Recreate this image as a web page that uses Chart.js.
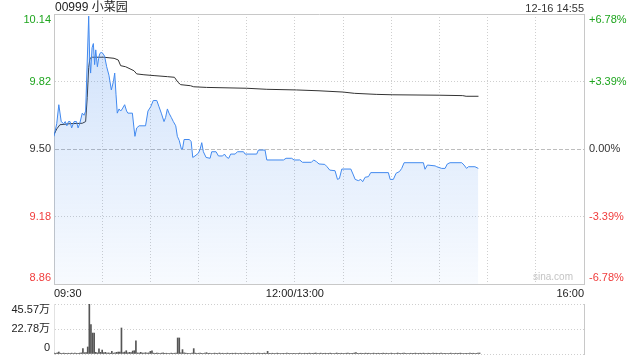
<!DOCTYPE html>
<html>
<head>
<meta charset="utf-8">
<script src="https://cdn.jsdelivr.net/npm/chart.js@4.4.1/dist/chart.umd.min.js"></script>
<style>
  body { margin: 0; background: #fff; }
  #wrap { position: relative; width: 640px; height: 360px; font-family: "Liberation Sans", Arial, "Noto Sans CJK SC", sans-serif; }
  #title { position: absolute; left: 55px; top: 0; font-size: 12px; line-height: 15px; color: #222; }
  #stamp { position: absolute; right: 56px; top: 1px; font-size: 11px; line-height: 14px; color: #333; }
  #priceChart { position: absolute; left: 0; top: 0; }
  #volChart { position: absolute; left: 0; top: 300px; }
</style>
</head>
<body>
<div id="wrap">
  <canvas id="priceChart" width="640" height="300"></canvas>
  <canvas id="volChart" width="640" height="60"></canvas>
  <div id="title">00999 小菜园</div>
  <div id="stamp">12-16 14:55</div>
</div>
<script>
// minutes since 09:30 (lunch break removed, 12:00/13:00 = 150, 16:00 = 330)
const priceMin = [0, 1.7, 3, 4.5, 6, 7, 8, 9, 10, 11, 12.5, 14, 15, 16, 17.6, 18.7, 19.7, 21.6, 22.2, 22.8,
  23.7, 24.5, 25.3, 26, 27, 27.8, 28.4, 29.5, 30.7, 31.5, 32.8, 34.2, 35.7, 37, 37.8, 38.6, 39.4, 40.5, 41.5, 42.5,
  44, 45.2, 46, 47.3, 48.8, 49.8, 50.4, 51.5, 53, 57, 58.5, 60.2, 61.8, 64, 65.4, 66.8, 68.5, 69.5, 70.6, 71.6,
  73, 74.3, 75.8, 76.8, 78, 79.3, 80, 81, 84.3, 85.4, 86.4, 87.8, 89.9, 91, 92, 93, 94.7, 97.2, 98.2, 100.9,
  102.4, 105, 106.1, 107.6, 108.8, 110, 112.8, 114.2, 118, 119, 126.2, 127.3, 131.4, 132.5, 142.9, 144.5, 148, 149.5, 153, 154.7,
  160.3, 161.7, 163.4, 165, 168.6, 170, 171.7, 175, 176.5, 177.7, 179.2, 184.8, 186.4, 187.5, 189.5, 191, 192.2, 193.7, 195.8, 197.2,
  208.2, 209.3, 211.3, 213, 215.1, 216.5, 218, 230, 231, 232.5, 237.3, 238.3, 241.4, 243.5, 244.9, 246.6, 253.9, 255.3, 256.9, 258,
  262.1, 264.2];
const priceVal = [9.56, 9.62, 9.71, 9.63, 9.62, 9.63, 9.61, 9.63, 9.63, 9.60, 9.63, 9.63, 9.60, 9.62, 9.67, 9.66, 9.68, 10.13, 9.93, 9.86,
  9.98, 10.00, 9.90, 9.97, 9.89, 9.93, 9.95, 9.96, 9.95, 9.94, 9.89, 9.85, 9.78, 9.82, 9.86, 9.76, 9.67, 9.69, 9.68, 9.69,
  9.71, 9.68, 9.67, 9.67, 9.67, 9.60, 9.56, 9.60, 9.61, 9.61, 9.68, 9.70, 9.73, 9.73, 9.70, 9.67, 9.63, 9.65, 9.69, 9.67,
  9.65, 9.63, 9.61, 9.56, 9.54, 9.50, 9.50, 9.545, 9.545, 9.535, 9.46, 9.467, 9.48, 9.50, 9.53, 9.487, 9.46, 9.456, 9.487, 9.487,
  9.467, 9.467, 9.476, 9.46, 9.456, 9.476, 9.476, 9.487, 9.487, 9.476, 9.476, 9.495, 9.495, 9.448, 9.448, 9.456, 9.456, 9.448, 9.448, 9.437,
  9.437, 9.448, 9.44, 9.429, 9.427, 9.416, 9.40, 9.397, 9.356, 9.36, 9.405, 9.405, 9.377, 9.356, 9.35, 9.356, 9.345, 9.366, 9.369, 9.388,
  9.388, 9.356, 9.356, 9.385, 9.393, 9.408, 9.435, 9.435, 9.404, 9.424, 9.42, 9.416, 9.408, 9.408, 9.429, 9.435, 9.435, 9.424, 9.408, 9.416,
  9.416, 9.408];

const avgMin = [0, 1.7, 3.7, 10, 17.6, 19.7, 20.7, 21.6, 22.4, 23.9, 31, 37.4, 40, 41.5, 44.6, 49.8, 51.5, 56, 62.3, 70.6,
  75, 77.2, 78.9, 85, 87, 95, 120, 132.5, 151, 165, 180, 187, 200.6, 211, 240, 254.5, 256.6, 264.3];
const avgVal = [9.568, 9.595, 9.615, 9.62, 9.622, 9.63, 9.745, 9.887, 9.93, 9.935, 9.935, 9.93, 9.922, 9.895, 9.89, 9.871, 9.856, 9.852, 9.848, 9.843,
  9.84, 9.816, 9.805, 9.80, 9.795, 9.792, 9.788, 9.783, 9.78, 9.776, 9.77, 9.764, 9.759, 9.757, 9.755, 9.753, 9.75, 9.75];

// volume per minute, in 万 shares
const volume = [
  0.9, 0.6, 1.0, 1.8, 0.7, 0.5, 0.8, 0.6, 0.5, 0.7,
  0.6, 0.8, 0.5, 0.9, 0.6, 0.7, 0.8, 1.0, 4.9, 1.2,
  1.4, 6.4, 45.57, 26.7, 19.1, 19.1, 1.5, 1.0, 4.6, 1.5,
  3.6, 1.2, 1.5, 0.8, 1.0, 0.7, 2.4, 0.8, 1.0, 1.5,
  1.8, 1.8, 23.7, 1.2, 1.8, 3.0, 1.0, 1.5, 1.4, 2.7,
  3.0, 12.1, 1.0, 0.8, 1.5, 0.9, 0.8, 1.2, 0.8, 1.0,
  2.4, 3.0, 0.8, 0.6, 0.9, 0.7, 0.6, 0.8, 1.0, 0.6,
  0.7, 0.6, 0.5, 0.8, 0.6, 0.7, 0.9, 14.6, 14.6, 1.0,
  4.0, 1.0, 0.8, 0.6, 0.7, 0.5, 0.9, 4.9, 0.8, 0.6,
  0.7, 0.9, 0.6, 0.5, 0.8, 1.2, 0.6, 0.7, 0.5, 0.6,
  0.8, 0.6, 0.5, 0.9, 0.6, 0.7, 0.5, 0.6, 0.8, 0.5,
  0.6, 0.7, 0.5, 0.8, 0.6, 0.5, 0.7, 0.6, 0.5, 0.8,
  0.6, 0.7, 0.5, 0.6, 0.8, 0.5, 0.6, 0.9, 0.7, 0.5,
  0.6, 0.8, 0.7, 2.4, 0.6, 0.5, 0.7, 0.6, 0.5, 0.8,
  0.6, 0.5, 0.7, 0.6, 0.5, 0.8, 0.6, 0.7, 0.5, 0.6,
  0.7, 0.5, 0.6, 0.8, 0.5, 0.6, 0.7, 0.5, 0.6, 0.8,
  0.5, 0.6, 0.7, 0.9, 0.5, 0.6, 0.8, 0.5, 0.6, 0.7,
  0.5, 0.6, 0.8, 0.6, 0.5, 0.7, 0.9, 0.6, 0.5, 0.7,
  0.6, 0.5, 0.7, 0.8, 0.6, 0.5, 0.6, 0.9, 1.2, 0.6,
  0.5, 0.7, 0.6, 0.5, 0.8, 0.6, 0.7, 0.5, 0.6, 0.8,
  0.5, 0.6, 0.7, 0.5, 0.6, 0.8, 0.5, 0.7, 0.6, 0.5,
  0.8, 0.6, 0.5, 0.7, 0.9, 0.6, 0.5, 0.7, 0.8, 0.6,
  0.5, 0.6, 0.7, 0.5, 0.6, 0.8, 0.5, 0.6, 0.7, 0.5,
  0.8, 0.6, 0.5, 0.7, 0.6, 0.5, 0.8, 0.6, 0.7, 0.5,
  0.6, 0.8, 0.5, 0.6, 0.7, 0.5, 0.6, 0.8, 0.5, 0.6,
  0.7, 0.5, 0.6, 0.8, 0.6, 0.5, 0.7, 0.6, 0.5, 0.8,
  0.6, 0.7, 0.5, 0.6, 0.8, 0.9];

const priceTicks = [8.86, 9.18, 9.50, 9.82, 10.14];
const priceLabels = ['8.86', '9.18', '9.50', '9.82', '10.14'];
const pctLabels = ['-6.78%', '-3.39%', '0.00%', '+3.39%', '+6.78%'];
const tickColors = ['#f03c3c', '#f03c3c', '#333333', '#1ea51e', '#1ea51e'];
const gridMin = [0, 30, 60, 90, 120, 150, 180, 210, 240, 270, 300, 330];
const timeMin = [0, 150, 330];
const timeLabels = ['09:30', '12:00/13:00', '16:00'];
const volTicks = [0, 22.785, 45.57];
const volLabels = ['0', '22.78万', '45.57万'];

Chart.defaults.font.family = '"Liberation Sans", Arial, "Noto Sans CJK SC", sans-serif';
Chart.defaults.font.size = 11;
Chart.defaults.color = '#333';

const gridColor = '#cfcfcf';
const edgeColor = '#c8c8c8';

// first/last label pushed inside the box like the original
function edgeLabel(text, i, n) {
  if (i === n - 1) return ['', text];
  if (i === 0) return [text, ''];
  return text;
}

// keep the plot box where it is, labels may hang over it
function fixWidth(w) {
  return function (scale) {
    scale.width = w;
    scale.paddingTop = 0;
    scale.paddingBottom = 0;
  };
}

const watermark = {
  id: 'watermark',
  beforeDatasetsDraw(chart) {
    const a = chart.chartArea;
    const c = chart.ctx;
    c.save();
    c.font = '10px "Liberation Sans", Arial, sans-serif';
    c.fillStyle = '#c4c4c4';
    c.textAlign = 'right';
    c.textBaseline = 'middle';
    c.fillText('sina.com', a.right - 11, a.bottom - 7);
    c.restore();
  }
};

new Chart(document.getElementById('priceChart'), {
  type: 'line',
  data: {
    datasets: [
      {
        data: priceMin.map((m, i) => ({ x: m, y: priceVal[i] })),
        borderColor: '#4189ef',
        borderWidth: 1,
        pointRadius: 0,
        tension: 0,
        fill: 'start',
        backgroundColor: function (ctx) {
          const area = ctx.chart.chartArea;
          if (!area) return 'rgba(65,137,239,0.15)';
          const g = ctx.chart.ctx.createLinearGradient(0, area.top, 0, area.bottom);
          g.addColorStop(0, 'rgba(65,137,239,0.26)');
          g.addColorStop(1, 'rgba(65,137,239,0.04)');
          return g;
        },
      },
      {
        data: avgMin.map((m, i) => ({ x: m, y: avgVal[i] })),
        borderColor: '#333',
        borderWidth: 1,
        pointRadius: 0,
        tension: 0,
        fill: false,
      },
    ],
  },
  options: {
    responsive: false,
    animation: false,
    layout: { padding: { top: 14 } },
    plugins: { legend: { display: false }, tooltip: { enabled: false } },
    scales: {
      x: {
        type: 'linear',
        min: 0,
        max: 330,
        afterBuildTicks(scale) { scale.ticks = gridMin.map(v => ({ value: v })); },
        afterFit(scale) { scale.height = 16; scale.paddingLeft = 0; scale.paddingRight = 0; },
        ticks: {
          autoSkip: false,
          maxRotation: 0,
          align: 'inner',
          padding: 3,
          color: '#222',
          callback: function (v) {
            const k = timeMin.indexOf(v);
            return k >= 0 ? timeLabels[k] : '';
          },
        },
        grid: { color: gridColor, drawTicks: false },
        border: {
          color: edgeColor,
          dash: ctx => (ctx.type === 'tick' && ctx.tick.value !== 0 && ctx.tick.value !== 330) ? [1, 2] : [],
        },
      },
      y: {
        position: 'left',
        min: 8.86,
        max: 10.14,
        afterBuildTicks(scale) { scale.ticks = priceTicks.map(v => ({ value: v })); },
        afterFit: fixWidth(54),
        ticks: {
          autoSkip: false,
          padding: 3,
          font: { size: 11, lineHeight: '12px' },
          color: ctx => tickColors[ctx.index],
          callback: (v, i) => edgeLabel(priceLabels[i], i, priceTicks.length),
        },
        grid: {
          drawTicks: false,
          color: ctx => (ctx.tick && ctx.tick.value === 10.14) ? edgeColor : (ctx.tick && ctx.tick.value === 9.5 ? '#bdbdbd' : gridColor),
        },
        border: {
          color: edgeColor,
          dash: function (ctx) {
            if (ctx.type !== 'tick') return [];
            const v = ctx.tick.value;
            if (v === 10.14 || v === 8.86) return [];
            if (v === 9.5) return [4, 2];
            return [1, 2];
          },
        },
      },
      y2: {
        position: 'right',
        min: 8.86,
        max: 10.14,
        afterBuildTicks(scale) { scale.ticks = priceTicks.map(v => ({ value: v })); },
        afterFit: fixWidth(56),
        ticks: {
          autoSkip: false,
          padding: 5,
          font: { size: 11, lineHeight: '12px' },
          color: ctx => tickColors[ctx.index],
          callback: (v, i) => edgeLabel(pctLabels[i], i, priceTicks.length),
        },
        grid: { display: false, drawTicks: false },
        border: { color: edgeColor },
      },
    },
  },
  plugins: [watermark],
});

new Chart(document.getElementById('volChart'), {
  type: 'bar',
  data: {
    datasets: [{
      data: volume.map((v, i) => ({ x: i, y: v })),
      backgroundColor: '#555',
      borderWidth: 0,
      barThickness: 1,
    }],
  },
  options: {
    responsive: false,
    animation: false,
    layout: { padding: { top: 4, bottom: 6 } },
    plugins: { legend: { display: false }, tooltip: { enabled: false } },
    scales: {
      x: {
        type: 'linear',
        min: 0,
        max: 330,
        offset: false,
        display: false,
        grid: { offset: false },
      },
      y: {
        position: 'left',
        min: 0,
        max: 45.57,
        afterBuildTicks(scale) { scale.ticks = volTicks.map(v => ({ value: v })); },
        afterFit: fixWidth(54),
        ticks: {
          autoSkip: false,
          padding: 4,
          font: { size: 11, lineHeight: '12px' },
          color: '#222',
          callback: (v, i) => edgeLabel(volLabels[i], i, volTicks.length),
        },
        grid: { color: gridColor, drawTicks: false },
        border: { color: '#e2e2e2', dash: ctx => ctx.type === 'tick' ? [1, 2] : [] },
      },
      y2: {
        position: 'right',
        min: 0,
        max: 45.57,
        afterFit: fixWidth(56),
        ticks: { display: false },
        grid: { display: false, drawTicks: false },
        border: { color: edgeColor },
      },
    },
  },
});
</script>
</body>
</html>
